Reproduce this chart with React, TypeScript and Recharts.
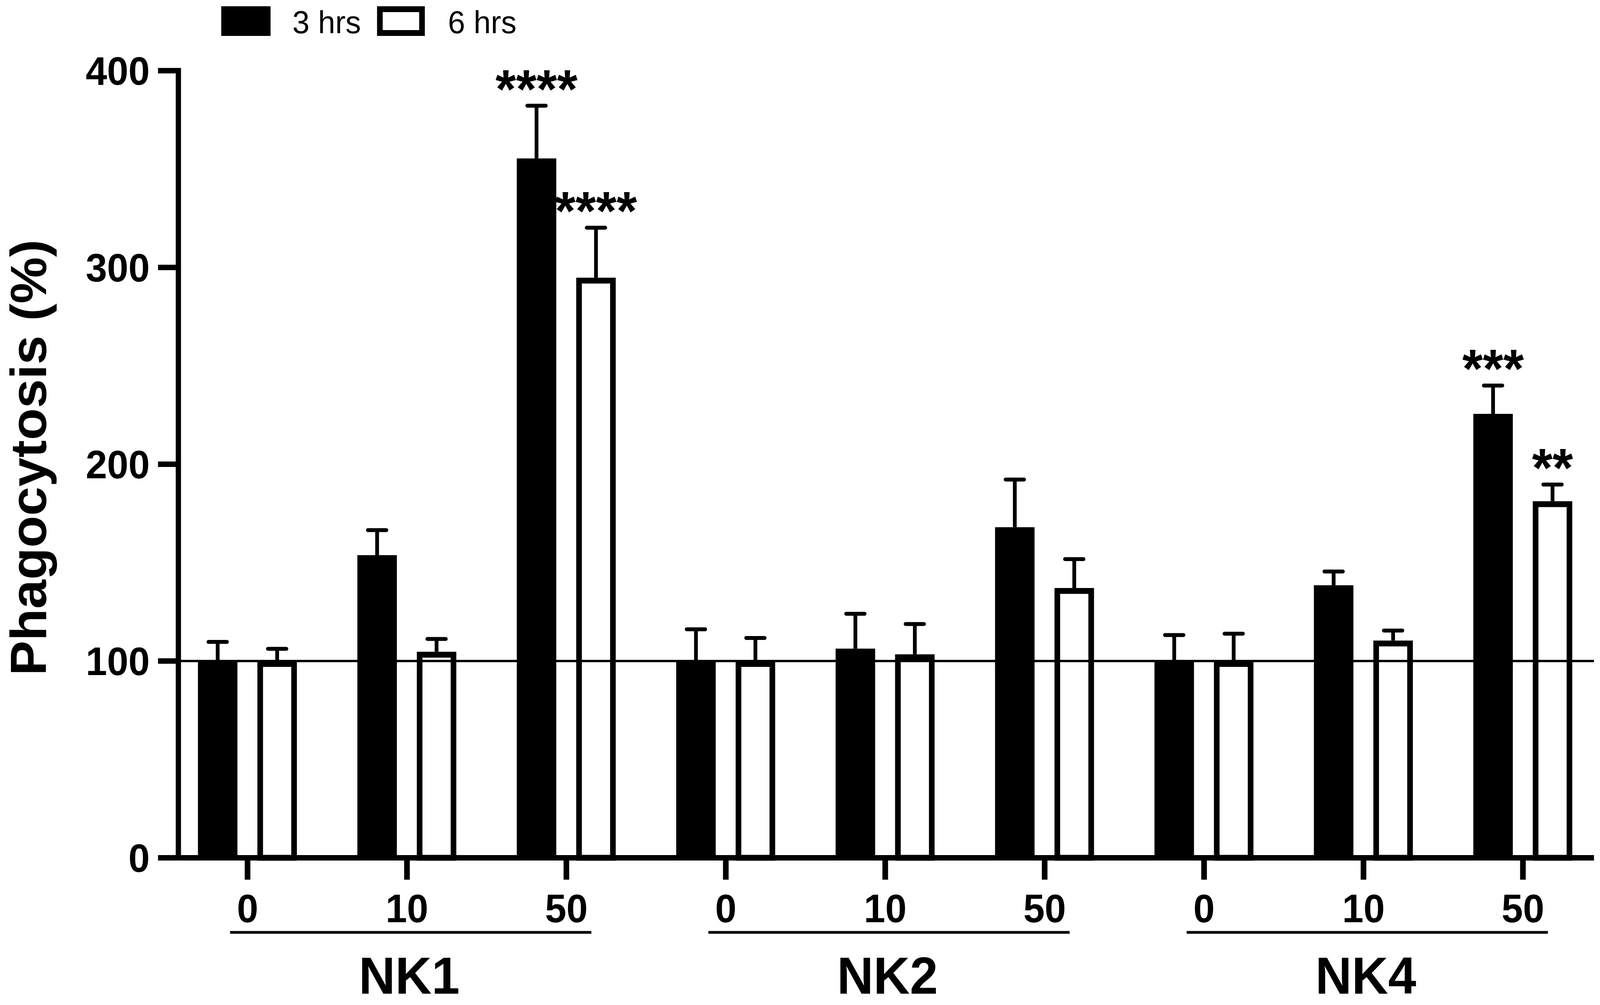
import React from 'react';
import { BarChart, Bar, XAxis, YAxis, ReferenceLine, Legend } from 'recharts';

const FONT = '"Liberation Sans", Arial, Helvetica, sans-serif';
const W = 4252;
const H = 2574;

// Cell lines and doses along the x axis
const GROUPS = ['NK1', 'NK2', 'NK4'];
const DOSES = ['0', '10', '50'];

// Phagocytosis (% of control), read per group/dose in the order above
const MEAN_3H = [100, 153.8, 355.4, 100, 106.3, 168, 100, 138.5, 225.6];
const SEM_3H = [9.7, 12.7, 26.8, 16.1, 17.7, 24.2, 13.2, 7, 14.4];
const SIG_3H = ['', '', '****', '', '', '', '', '', '***'];

const MEAN_6H = [100, 104.7, 294.8, 100, 103.4, 137.1, 100, 110.4, 181.2];
const SEM_6H = [6.2, 6.5, 25.4, 11.7, 15.4, 14.7, 13.9, 5.1, 8.5];
const SIG_6H = ['', '', '****', '', '', '', '', '', '**'];

const Y_TICKS = [0, 100, 200, 300, 400];
const BASELINE = 100;

const rows = GROUPS.flatMap((group, gi) =>
  DOSES.map((dose, di) => {
    const i = gi * DOSES.length + di;
    return {
      key: `${group} ${dose}`,
      group,
      dose,
      doseIndex: di,
      h3: MEAN_3H[i],
      h3sem: SEM_3H[i],
      h3sig: SIG_3H[i],
      h6: MEAN_6H[i],
      h6sem: SEM_6H[i],
      h6sig: SIG_6H[i],
    };
  })
);

const OUTLINE = 15;

// bar body + upper error bar + significance stars, all from the bar's own geometry
function makeBarShape(dataKey: string, outlined: boolean) {
  return (props: any) => {
    const { x, y, width, height, payload } = props;
    const mean = payload[dataKey];
    const pxPerUnit = height / mean;
    const cx = x + width / 2;
    const errY = y - payload[dataKey + 'sem'] * pxPerUnit;
    const sig = payload[dataKey + 'sig'];
    return (
      <g>
        {outlined ? (
          <rect
            x={x + OUTLINE / 2}
            y={y + OUTLINE / 2}
            width={width - OUTLINE}
            height={height - OUTLINE / 2}
            fill="none"
            stroke="#000"
            strokeWidth={OUTLINE}
          />
        ) : (
          <rect x={x} y={y} width={width} height={height} fill="#000" />
        )}
        <line x1={cx} x2={cx} y1={y} y2={errY} stroke="#000" strokeWidth={10} />
        <line x1={cx - 24.5} x2={cx + 24.5} y1={errY} y2={errY} stroke="#000" strokeWidth={10} strokeLinecap="round" />
        {sig ? (
          <text x={cx} y={errY + 5} textAnchor="middle" fontFamily={FONT} fontWeight="bold" fontSize={140} fill="#000">
            {sig}
          </text>
        ) : null}
      </g>
    );
  };
}

const DoseTick = (props: any) => {
  const { x, y, payload } = props;
  const row = rows.find((r) => r.key === payload.value);
  if (!row) return null;
  const isMiddle = row.doseIndex === 1;
  return (
    <g>
      <text x={x} y={y} dy={109} textAnchor="middle" fontFamily={FONT} fontWeight="bold" fontSize={102} fill="#000">
        {row.dose}
      </text>
      {isMiddle && (
        <>
          <line x1={x - 470} x2={x + 490} y1={y + 135} y2={y + 135} stroke="#000" strokeWidth={7} />
          <text x={x + 6} y={y + 292} textAnchor="middle" fontFamily={FONT} fontWeight="bold" fontSize={134} fill="#000">
            {row.group}
          </text>
        </>
      )}
    </g>
  );
};

const YTitle = (props: any) => {
  const { viewBox } = props;
  const cx = viewBox.x + 76;
  const cy = viewBox.y + viewBox.height / 2 - 17;
  return (
    <text
      x={cx}
      y={cy}
      transform={`rotate(-90, ${cx}, ${cy})`}
      textAnchor="middle"
      dominantBaseline="central"
      fontFamily={FONT}
      fontWeight="bold"
      fontSize={134}
      fill="#000"
    >
      Phagocytosis (%)
    </text>
  );
};

const renderLegend = (props: any) => {
  const { payload } = props;
  return (
    <div style={{ display: 'flex', alignItems: 'center', fontFamily: FONT, fontSize: 82, lineHeight: 1, color: '#000' }}>
      {payload.map((entry: any, i: number) => {
        const outlined = entry.dataKey === 'h6';
        return (
          <div key={entry.value} style={{ display: 'flex', alignItems: 'center', marginLeft: i === 0 ? 0 : 43 }}>
            <div
              style={{
                width: outlined ? 127 : 131,
                height: 76,
                boxSizing: 'border-box',
                background: outlined ? '#fff' : '#000',
                border: outlined ? `${OUTLINE}px solid #000` : 'none',
              }}
            />
            <span style={{ marginLeft: outlined ? 61 : 58, paddingTop: 6 }}>{entry.value}</span>
          </div>
        );
      })}
    </div>
  );
};

export default function App() {
  // fit the fixed-size figure into whatever viewport the page actually gets
  const vw = typeof window !== 'undefined' && window.innerWidth ? window.innerWidth : W;
  const vh = typeof window !== 'undefined' && window.innerHeight ? window.innerHeight : H;
  const sx = vw / W;
  const sy = vh / H;

  return (
    <div style={{ width: vw, height: vh, overflow: 'hidden', background: '#fff' }}>
      <style>{`html, body { margin: 0; padding: 0; overflow: hidden; background: #fff; }`}</style>
      <div style={{ width: W, height: H, transform: `scale(${sx}, ${sy})`, transformOrigin: '0 0' }}>
        <BarChart
          width={W}
          height={H}
          data={rows}
          margin={{ top: 181, right: 16, bottom: 0, left: 0 }}
          barSize={105}
          barGap={53}
          style={{ fontFamily: FONT }}
        >
          <Legend
            layout="horizontal"
            verticalAlign="middle"
            align="center"
            content={renderLegend}
            wrapperStyle={{ top: 10, left: 588, width: 'auto', height: 'auto' }}
          />
          <XAxis
            dataKey="key"
            type="category"
            interval={0}
            height={377}
            padding={{ left: -28, right: -23 }}
            axisLine={{ stroke: '#000', strokeWidth: 14 }}
            tickLine={{ stroke: '#000', strokeWidth: 15 }}
            tickSize={56}
            tickMargin={0}
            tick={<DoseTick />}
          />
          <YAxis
            type="number"
            domain={[0, 400]}
            ticks={Y_TICKS}
            interval={0}
            width={474}
            axisLine={{ stroke: '#000', strokeWidth: 14, strokeLinecap: 'square' }}
            tickLine={{ stroke: '#000', strokeWidth: 14 }}
            tickSize={54}
            tickMargin={22}
            tick={{ fill: '#000', fontSize: 102, fontWeight: 'bold', fontFamily: FONT }}
            label={<YTitle />}
          />
          <Bar dataKey="h3" name="3 hrs" fill="#000" shape={makeBarShape('h3', false)} activeBar={false} isAnimationActive={false} />
          <Bar dataKey="h6" name="6 hrs" fill="#fff" shape={makeBarShape('h6', true)} activeBar={false} isAnimationActive={false} />
          <ReferenceLine y={BASELINE} stroke="#000" strokeWidth={6} />
        </BarChart>
      </div>
    </div>
  );
}
